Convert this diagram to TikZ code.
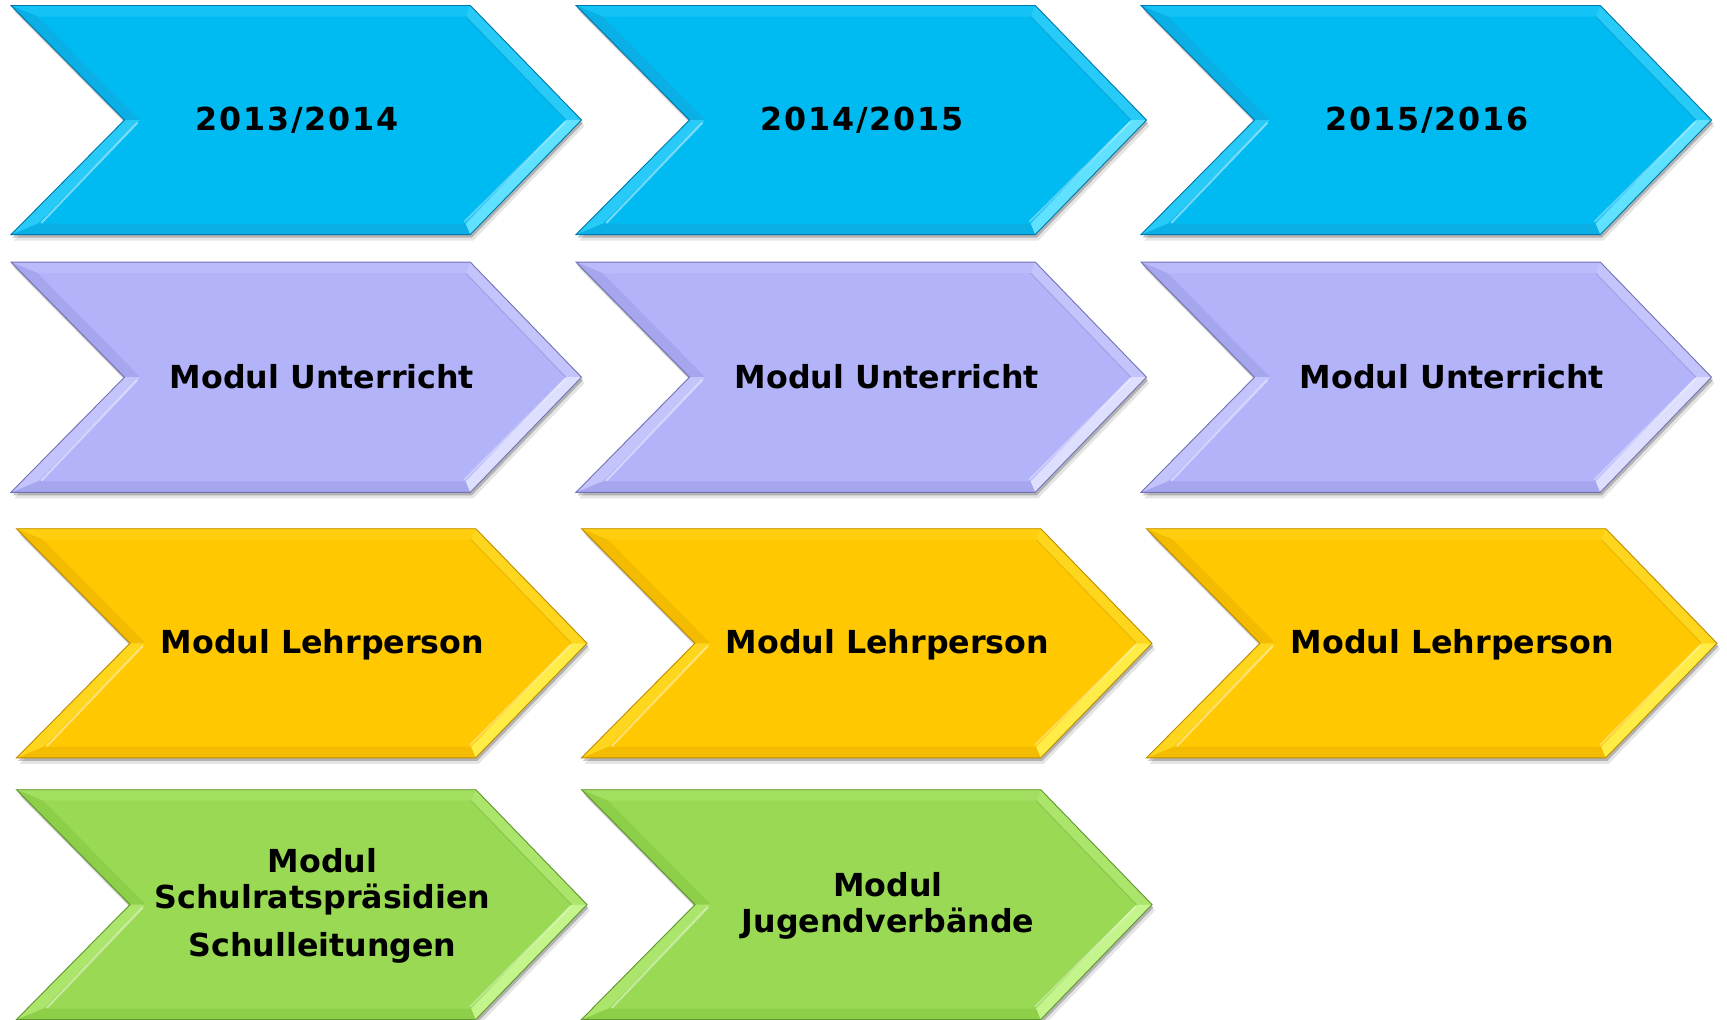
\documentclass[tikz,border=0pt]{standalone}
\usepackage{fontspec}
\setmainfont{DejaVu Sans}
\newfontfamily\yearfont[LetterSpace=6]{DejaVu Sans}
\usetikzlibrary{calc}

% base, light, bright, dark and shade tones per row
\definecolor{blueFill}{RGB}{0,187,242}
\definecolor{blueLight}{RGB}{40,202,248}
\definecolor{blueBright}{RGB}{95,225,255}
\definecolor{blueShade}{RGB}{10,175,230}
\definecolor{blueEdge}{RGB}{0,120,170}

\definecolor{lilaFill}{RGB}{179,179,250}
\definecolor{lilaLight}{RGB}{196,196,252}
\definecolor{lilaBright}{RGB}{222,222,255}
\definecolor{lilaShade}{RGB}{166,166,238}
\definecolor{lilaEdge}{RGB}{115,115,180}

\definecolor{goldFill}{RGB}{255,200,0}
\definecolor{goldLight}{RGB}{255,214,30}
\definecolor{goldBright}{RGB}{255,236,70}
\definecolor{goldShade}{RGB}{244,188,0}
\definecolor{goldEdge}{RGB}{190,140,0}

\definecolor{leafFill}{RGB}{153,217,84}
\definecolor{leafLight}{RGB}{172,229,108}
\definecolor{leafBright}{RGB}{196,244,140}
\definecolor{leafShade}{RGB}{142,207,74}
\definecolor{leafEdge}{RGB}{95,150,45}

\tikzset{
  label/.style={font=\fontsize{31.7}{36}\selectfont\bfseries, text=black,
    inner sep=0pt, align=center},
  yearlabel/.style={label, font=\fontsize{31.7}{36}\selectfont\yearfont\bfseries},
}

% chevron: #1 left x, #2 top y, #3 bottom y, #4 colour prefix
\newcommand\chevron[4]{%
  \pgfmathsetmacro\chvL{#1}%
  \pgfmathsetmacro\chvN{#1+113.5}%
  \pgfmathsetmacro\chvC{#1+459.3}%
  \pgfmathsetmacro\chvT{#1+570.5}%
  \pgfmathsetmacro\chvA{#2}%
  \pgfmathsetmacro\chvB{#3}%
  \pgfmathsetmacro\chvM{(#2+#3)/2}%
  \def\chvb{11}\def\chvd{4.6}\def\chve{15.6}\def\chvf{26.6}%
  % soft drop shadow
  \fill[black,opacity=0.10,shift={(3,6)}]
    (\chvL,\chvA) -- (\chvC,\chvA) -- (\chvT,\chvM) -- (\chvC,\chvB)
    -- (\chvL,\chvB) -- (\chvN,\chvM) -- cycle;
  \fill[black,opacity=0.22,shift={(1.5,3)}]
    (\chvL,\chvA) -- (\chvC,\chvA) -- (\chvT,\chvM) -- (\chvC,\chvB)
    -- (\chvL,\chvB) -- (\chvN,\chvM) -- cycle;
  % body
  \fill[#4Fill]
    (\chvL,\chvA) -- (\chvC,\chvA) -- (\chvT,\chvM) -- (\chvC,\chvB)
    -- (\chvL,\chvB) -- (\chvN,\chvM) -- cycle;
  % bevel bands
  \fill[#4Light,opacity=0.5] (\chvL,\chvA) -- (\chvC,\chvA)
    -- (\chvC-\chvd,\chvA+\chvb) -- (\chvL+\chvf,\chvA+\chvb) -- cycle;
  \fill[#4Shade] (\chvL,\chvB) -- (\chvC,\chvB)
    -- (\chvC-\chvd,\chvB-\chvb) -- (\chvL+\chvf,\chvB-\chvb) -- cycle;
  \fill[#4Light] (\chvC,\chvA) -- (\chvT,\chvM)
    -- (\chvT-\chve,\chvM) -- (\chvC-\chvd,\chvA+\chvb) -- cycle;
  \fill[#4Bright] (\chvT,\chvM) -- (\chvC,\chvB)
    -- (\chvC-\chvd,\chvB-\chvb) -- (\chvT-\chve,\chvM) -- cycle;
  \fill[#4Shade] (\chvL,\chvA) -- (\chvN,\chvM)
    -- (\chvN+\chve,\chvM) -- (\chvL+\chvf,\chvA+\chvb) -- cycle;
  \fill[#4Light] (\chvN,\chvM) -- (\chvL,\chvB)
    -- (\chvL+\chvf,\chvB-\chvb) -- (\chvN+\chve,\chvM) -- cycle;
  % highlights along the inner bevel edges
  \draw[white,opacity=0.45,line width=2pt,line cap=round]
    (\chvN+\chve-3,\chvM+3) -- (\chvL+\chvf+4,\chvB-\chvb-1);
  \draw[white,opacity=0.35,line width=2pt,line cap=round]
    (\chvT-\chve-1,\chvM+2) -- (\chvC-\chvd-1,\chvB-\chvb-2);
  \draw[#4Edge,opacity=0.35,line width=1pt]
    (\chvC-\chvd,\chvA+\chvb) -- (\chvT-\chve,\chvM);
  % outline
  \draw[#4Edge,line width=0.9pt,line join=miter]
    (\chvL,\chvA) -- (\chvC,\chvA) -- (\chvT,\chvM) -- (\chvC,\chvB)
    -- (\chvL,\chvB) -- (\chvN,\chvM) -- cycle;
}

\begin{document}
\begin{tikzpicture}[x=1pt,y=-1pt]
  \useasboundingbox (0,0) rectangle (1727,1020);
  \fill[white] (0,0) rectangle (1727,1020);

  % row 1: school years
  \chevron{11}{5.5}{234.6}{blue}
  \chevron{576}{5.5}{234.6}{blue}
  \chevron{1141}{5.5}{234.6}{blue}
  \node[yearlabel,anchor=base] (year1) at (297,130.5) {2013/2014};
  \node[yearlabel,anchor=base] (year2) at (862,130.5) {2014/2015};
  \node[yearlabel,anchor=base] (year3) at (1427,130.5) {2015/2016};

  % row 2: teaching module
  \chevron{11}{262.1}{492.3}{lila}
  \chevron{576}{262.1}{492.3}{lila}
  \chevron{1141}{262.1}{492.3}{lila}
  \node[label,anchor=base] (unt1) at (322,388.2) {Modul Unterricht};
  \node[label,anchor=base] (unt2) at (887,388.2) {Modul Unterricht};
  \node[label,anchor=base] (unt3) at (1452,388.2) {Modul Unterricht};

  % row 3: teacher module
  \chevron{16.5}{528.7}{757.8}{gold}
  \chevron{581.5}{528.7}{757.8}{gold}
  \chevron{1146.5}{528.7}{757.8}{gold}
  \node[label,anchor=base] (lehr1) at (322.5,653.5) {Modul Lehrperson};
  \node[label,anchor=base] (lehr2) at (887.5,653.5) {Modul Lehrperson};
  \node[label,anchor=base] (lehr3) at (1452.5,653.5) {Modul Lehrperson};

  % row 4: school boards and youth organisations
  \chevron{16.5}{789.7}{1019.5}{leaf}
  \chevron{581.5}{789.7}{1019.5}{leaf}
  \node[label] (schul) at (322.5,906) {Modul\\Schulratspräsidien\\[12.5pt]Schulleitungen};
  \node[label] (jugend) at (888,906) {Modul\\Jugendverbände};
\end{tikzpicture}
\end{document}
